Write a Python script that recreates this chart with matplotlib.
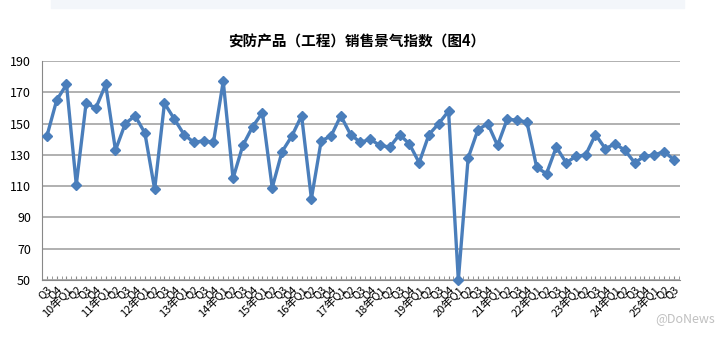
import matplotlib
matplotlib.use("Agg")
import matplotlib.pyplot as plt

plt.rcParams['font.family'] = ['Noto Sans CJK SC', 'DejaVu Sans']

# quarterly index, 2009 Q3 .. 2025 Q3
years = list(range(2009, 2026))
values = [142, 165, 175, 111, 163, 160, 175, 133, 150, 155,
          144, 108, 163, 153, 143, 138, 139, 138, 177, 115,
          136, 148, 157, 109, 132, 142, 155, 102, 139, 142,
          155, 143, 138, 140, 136, 135, 143, 137, 125, 143,
          150, 158, 50, 128, 146, 150, 136, 153, 152, 151,
          122, 118, 135, 125, 129, 130, 143, 134, 137, 133,
          125, 129, 130, 132, 127]

labels = []
q = 3
y = 2009
for v in values:
    if q == 1:
        labels.append(f"{y % 100}年Q1")
    else:
        labels.append(f"Q{q}")
    q += 1
    if q > 4:
        q = 1
        y += 1

fig = plt.figure(figsize=(7.28, 3.37), dpi=100)
fig.patches.append(plt.Rectangle((0.07, 0.975), 0.87, 0.03, transform=fig.transFigure,
                                 color='#f3f6fa', zorder=0))
ax = fig.add_axes([0.0577, 0.169, 0.876, 0.65])

x = list(range(len(values)))
ax.plot(x, values, color='#4a7ebb', linewidth=2.4, marker='D', markersize=5.5,
        markerfacecolor='#4a7ebb', markeredgecolor='#4a7ebb', zorder=3, clip_on=False)

ax.set_ylim(50, 190)
ax.set_yticks(range(50, 191, 20))
ax.set_xlim(-0.4, len(values) - 0.4)
ax.set_xticks(x)
ax.set_xticklabels(labels, rotation=45, ha='right', rotation_mode='anchor', fontsize=8)
ax.set_xticks([i - 0.5 for i in range(len(values) + 1)], minor=True)
ax.tick_params(axis='x', which='major', length=3, direction='in', color='#888888', pad=3)
ax.tick_params(axis='x', which='minor', length=3, direction='in', color='#888888')
ax.tick_params(axis='y', length=0, labelsize=9, pad=8)

ax.grid(axis='y', color='#aaaaaa', linewidth=1.3)
ax.set_axisbelow(True)
for s in ['top', 'right']:
    ax.spines[s].set_visible(False)
ax.spines['left'].set_color('#888888')
ax.spines['bottom'].set_color('#888888')

fig.text(0.49, 0.878, '安防产品（工程）销售景气指数（图4）', ha='center', va='center',
         fontsize=10.5, fontweight='bold')
fig.text(0.982, 0.055, '@DoNews', ha='right', va='center', fontsize=9, color='#c0c0c0')

fig.savefig('out.png', dpi=100)
